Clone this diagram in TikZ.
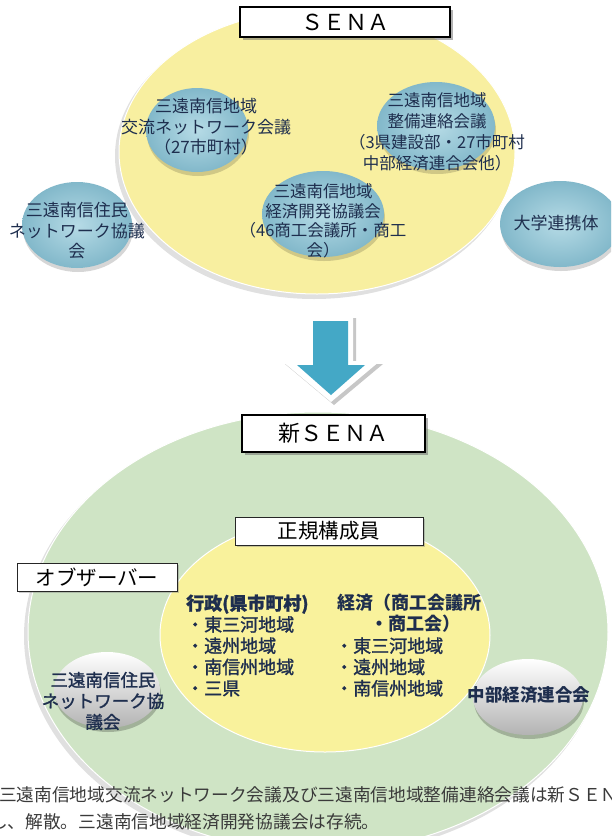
\documentclass[tikz,border=0pt]{standalone}
\usepackage{fontspec}
\setmainfont{Noto Sans CJK JP}
\newfontfamily\jpmed{Noto Sans CJK JP}[FakeBold=1.4]
\usetikzlibrary{shadows}
\definecolor{yel}{HTML}{F8EFA0}
\definecolor{yeltwo}{HTML}{F9F29C}
\definecolor{grn}{HTML}{CFE4C5}
\definecolor{navy}{HTML}{1E2E4E}
\definecolor{bluein}{HTML}{B6DBE6}
\definecolor{blueout}{HTML}{82B8CA}
\definecolor{arrowblue}{HTML}{44A8C6}
\definecolor{capgray}{HTML}{3A3A3A}
\newcommand\bcirc[4]{%
  \fill[black,opacity=0.16] (#1+1,#2+4) ellipse (#3pt and #4pt);
  \shade[inner color=bluein, outer color=blueout] (#1,#2) ellipse (#3pt and #4pt);}
\newcommand\wcirc[4]{%
  \fill[black,opacity=0.22] (#1+1,#2+4) ellipse (#3pt and #4pt);
  \shade[top color=white, middle color=white!94!black, bottom color=black!30] (#1,#2) ellipse (#3pt and #4pt);}
\begin{document}
\begin{tikzpicture}[x=1pt,y=-1pt,
  ctext/.style={font=\fontsize{17}{20.5}\selectfont, text=navy, align=center, inner sep=0pt},
  ltext/.style={font=\fontsize{18}{21.25}\selectfont\jpmed, text=navy, align=left, inner sep=0pt, anchor=west},
  bigbox/.style={draw=black, line width=1.6pt, fill=white, inner sep=0pt,
     font=\fontsize{22}{26}\selectfont,
     drop shadow={shadow xshift=2.5pt, shadow yshift=-2.5pt, fill=black!60, opacity=0.5}},
  smallbox/.style={draw=black!85, line width=0.8pt, fill=white, inner sep=0pt,
     font=\fontsize{20.5}{24}\selectfont,
     drop shadow={shadow xshift=1.5pt, shadow yshift=-1.5pt, fill=black!50, opacity=0.4}},
  captext/.style={font=\fontsize{17.7}{22}\selectfont, text=capgray, inner sep=0pt, anchor=west}]
\useasboundingbox (0,0) rectangle (611,836);
\clip (0,0) rectangle (611,836);
\fill[white] (0,0) rectangle (611,836);

% ---------- top: SENA ----------
\fill[black,opacity=0.12] (314,156) ellipse (199pt and 143pt);
\filldraw[fill=yel, draw=white, line width=1pt] (317,152) ellipse (198pt and 142pt);

\bcirc{197}{130}{51}{42}
\bcirc{436}{126}{59}{44}
\bcirc{323}{214}{61}{43}
\bcirc{77}{225}{55}{43}
\bcirc{560}{224}{60}{43}

\node[bigbox, minimum width=210pt, minimum height=30pt] (sena) at (345,22) {ＳＥＮＡ};

\node[ctext] (koryu) at (206,127) {三遠南信地域\\交流ネットワーク会議\\（27市町村）};
\node[ctext, font=\fontsize{16.5}{21}\selectfont] (seibi) at (437,131.5) {三遠南信地域\\整備連絡会議\\（3県建設部・27市町村\\中部経済連合会他）};
\node[ctext, font=\fontsize{16.5}{19.5}\selectfont] (keizai) at (323,221) {三遠南信地域\\経済開発協議会\\（46商工会議所・商工\\会）};
\node[ctext] (jumin) at (77,231) {三遠南信住民\\ネットワーク協議\\会};
\node[ctext] (daigaku) at (556,223) {大学連携体};

% ---------- arrow ----------
\coordinate (atip) at (331,402);
\fill[black,opacity=0.22] (311,318) -- (356,318) -- (356,364) -- (383,364) -- (334,405) -- (285,364) -- (311,364) -- cycle;
\fill[white] (308,315) -- (353,315) -- (353,361) -- (380,361) -- (atip) -- (282,361) -- (308,361) -- cycle;
\fill[arrowblue] (313,321) -- (348,321) -- (348,365) -- (365,365) -- (331,395) -- (297,365) -- (313,365) -- cycle;

% ---------- bottom: new SENA ----------
\fill[black,opacity=0.12] (315,636) ellipse (291pt and 221pt);
\filldraw[fill=grn, draw=white, line width=1pt] (318,632) ellipse (290pt and 220pt);
\filldraw[fill=yeltwo, draw=white, line width=1pt] (325,635) ellipse (165pt and 117pt);

\wcirc{107}{690}{53}{38}
\wcirc{528}{697}{55}{38}

\node[bigbox, minimum width=183pt, minimum height=37pt] (newsena) at (333.5,433.5) {新ＳＥＮＡ};
\node[smallbox, minimum width=188pt, minimum height=28pt] (seiki) at (329,531) {正規構成員};
\node[smallbox, minimum width=160pt, minimum height=28pt] (observer) at (97,577) {オブザーバー};

\node[ltext] (gyosei) at (186,645.5) {{\bfseries 行政(県市町村)}\\・東三河地域\\・遠州地域\\・南信州地域\\・三県};
\node[ltext, font=\fontsize{18}{21.25}\selectfont\bfseries] (keizaih) at (337,603) {経済（商工会議所};
\node[ltext, font=\fontsize{18}{21.25}\selectfont\bfseries] (keizaih2) at (370,624) {・商工会）};
\node[ltext] (keizaib) at (335,667) {・東三河地域\\・遠州地域\\・南信州地域};

\node[ctext, font=\fontsize{17.5}{21}\selectfont\jpmed] (jumin2) at (103,701) {三遠南信住民\\ネットワーク協\\議会};
\node[ctext, font=\fontsize{17.5}{21}\selectfont\bfseries] (chubu) at (529,695) {中部経済連合会};

% ---------- caption (clipped at both edges, as in the reference) ----------
\node[captext] (cap1) at (-1,795) {三遠南信地域交流ネットワーク会議及び三遠南信地域整備連絡会議は新ＳＥＮ};
\node[captext] (cap2) at (-10,822) {し、解散。三遠南信地域経済開発協議会は存続。};
\end{tikzpicture}
\end{document}
